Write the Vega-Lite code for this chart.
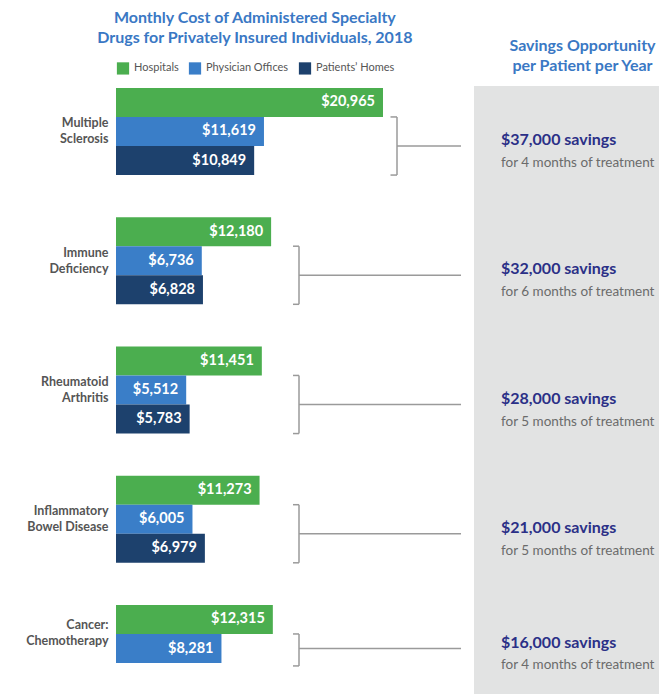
{
  "$schema": "https://vega.github.io/schema/vega-lite/v6.json",
  "padding": {"left": 25, "top": 10, "right": 0, "bottom": 0},
  "spacing": 0,
  "bounds": "flush",
  "config": {"view": {"stroke": null}, "font": "Lato"},
  "resolve": {"scale": {"color": "independent"}, "legend": {"color": "independent"}},
  "datasets": {
    "costs": [
      {"category": "Multiple Sclerosis", "series": "Hospitals", "value": 20965},
      {"category": "Multiple Sclerosis", "series": "Physician Offices", "value": 11619},
      {"category": "Multiple Sclerosis", "series": "Patients’ Homes", "value": 10849},
      {"category": "Immune Deficiency", "series": "Hospitals", "value": 12180},
      {"category": "Immune Deficiency", "series": "Physician Offices", "value": 6736},
      {"category": "Immune Deficiency", "series": "Patients’ Homes", "value": 6828},
      {"category": "Rheumatoid Arthritis", "series": "Hospitals", "value": 11451},
      {"category": "Rheumatoid Arthritis", "series": "Physician Offices", "value": 5512},
      {"category": "Rheumatoid Arthritis", "series": "Patients’ Homes", "value": 5783},
      {"category": "Inflammatory Bowel Disease", "series": "Hospitals", "value": 11273},
      {"category": "Inflammatory Bowel Disease", "series": "Physician Offices", "value": 6005},
      {"category": "Inflammatory Bowel Disease", "series": "Patients’ Homes", "value": 6979},
      {"category": "Cancer: Chemotherapy", "series": "Hospitals", "value": 12315},
      {"category": "Cancer: Chemotherapy", "series": "Physician Offices", "value": 8281}
    ],
    "savings": [
      {"category": "Multiple Sclerosis", "savings": 37000, "months": 4, "savingsLabel": "$37,000 savings", "treatment": "for 4 months of treatment"},
      {"category": "Immune Deficiency", "savings": 32000, "months": 6, "savingsLabel": "$32,000 savings", "treatment": "for 6 months of treatment"},
      {"category": "Rheumatoid Arthritis", "savings": 28000, "months": 5, "savingsLabel": "$28,000 savings", "treatment": "for 5 months of treatment"},
      {"category": "Inflammatory Bowel Disease", "savings": 21000, "months": 5, "savingsLabel": "$21,000 savings", "treatment": "for 5 months of treatment"},
      {"category": "Cancer: Chemotherapy", "savings": 16000, "months": 4, "savingsLabel": "$16,000 savings", "treatment": "for 4 months of treatment"}
    ]
  },
  "hconcat": [
    {
      "width": 358,
      "height": 608,
      "title": {
        "text": ["Monthly Cost of Administered Specialty", "Drugs for Privately Insured Individuals, 2018"],
        "anchor": "middle", "frame": "bounds", "dx": 5,
        "fontSize": 16, "fontWeight": "bold", "color": "#3a78c4", "lineHeight": 20, "offset": 15
      },
      "layer": [
        {
          "data": {"name": "costs"},
          "mark": {"type": "bar"},
          "encoding": {
            "x": {"field": "value", "type": "quantitative", "scale": {"domain": [0, 28111], "nice": false}, "axis": null},
            "y": {
              "field": "category", "type": "nominal", "title": null,
              "scale": {"type": "band", "domain": ["Multiple Sclerosis", "Immune Deficiency", "Rheumatoid Arthritis", "Inflammatory Bowel Disease", "Cancer: Chemotherapy"], "paddingInner": 0.326, "paddingOuter": 0.015},
              "axis": {
                "title": null, "domain": false, "ticks": false, "labelPadding": 8,
                "labelFontSize": 12.5, "labelFontWeight": "bold", "labelColor": "#555555", "labelLineHeight": 16,
                "labelBaseline": "middle",
                "labelExpr": "datum.value == 'Inflammatory Bowel Disease' ? ['Inflammatory', 'Bowel Disease'] : split(datum.value, ' ')",
                "labelOffset": {"condition": {"test": "datum.value == 'Cancer: Chemotherapy'", "value": -24}, "value": -8}
              }
            },
            "yOffset": {"field": "series", "type": "nominal", "scale": {"domain": ["Hospitals", "Physician Offices", "Patients’ Homes"], "paddingInner": 0, "paddingOuter": 0}},
            "color": {
              "field": "series", "type": "nominal",
              "scale": {"domain": ["Hospitals", "Physician Offices", "Patients’ Homes"], "range": ["#4bae4f", "#3a7ec8", "#1d416d"]},
              "legend": {
                "title": null, "orient": "top", "direction": "horizontal", "symbolType": "square", "symbolSize": 150,
                "labelFontSize": 11, "labelColor": "#555555", "columnPadding": 9, "offset": 11, "labelOffset": 4
              }
            }
          }
        },
        {
          "data": {"name": "costs"},
          "mark": {"type": "text", "align": "right", "baseline": "middle", "dx": -8, "color": "white", "fontWeight": "bold", "fontSize": 14.5},
          "encoding": {
            "x": {"field": "value", "type": "quantitative"},
            "y": {"field": "category", "type": "nominal", "title": null},
            "yOffset": {"field": "series", "type": "nominal"},
            "text": {"field": "value", "type": "quantitative", "format": "$,d"}
          }
        },
        {
          "data": {"name": "savings"},
          "transform": [{"filter": "datum.category == 'Multiple Sclerosis'"}],
          "mark": {"type": "rule", "color": "#9a9a9a", "strokeWidth": 1.5},
          "encoding": {"x": {"datum": 22065}, "y": {"field": "category", "type": "nominal", "title": null, "bandPosition": 0.333}, "y2": {"field": "category", "bandPosition": 1}}
        },
        {
          "data": {"name": "savings"},
          "transform": [{"filter": "datum.category == 'Multiple Sclerosis'"}],
          "mark": {"type": "rule", "color": "#9a9a9a", "strokeWidth": 1.5},
          "encoding": {"x": {"datum": 21555}, "x2": {"datum": 22065}, "y": {"field": "category", "type": "nominal", "title": null, "bandPosition": 0.333}}
        },
        {
          "data": {"name": "savings"},
          "transform": [{"filter": "datum.category == 'Multiple Sclerosis'"}],
          "mark": {"type": "rule", "color": "#9a9a9a", "strokeWidth": 1.5},
          "encoding": {"x": {"datum": 21555}, "x2": {"datum": 22065}, "y": {"field": "category", "type": "nominal", "title": null, "bandPosition": 1}}
        },
        {
          "data": {"name": "savings"},
          "transform": [{"filter": "datum.category == 'Multiple Sclerosis'"}],
          "mark": {"type": "rule", "color": "#9a9a9a", "strokeWidth": 1.5},
          "encoding": {"x": {"datum": 22065}, "x2": {"datum": 27091}, "y": {"field": "category", "type": "nominal", "title": null, "bandPosition": 0.667}}
        },
        {
          "data": {"name": "savings"},
          "transform": [{"filter": "datum.category != 'Multiple Sclerosis' && datum.category != 'Cancer: Chemotherapy'"}],
          "mark": {"type": "rule", "color": "#9a9a9a", "strokeWidth": 1.5},
          "encoding": {"x": {"datum": 14370}, "y": {"field": "category", "type": "nominal", "title": null, "bandPosition": 0.333}, "y2": {"field": "category", "bandPosition": 1}}
        },
        {
          "data": {"name": "savings"},
          "transform": [{"filter": "datum.category != 'Multiple Sclerosis'"}],
          "mark": {"type": "rule", "color": "#9a9a9a", "strokeWidth": 1.5},
          "encoding": {"x": {"datum": 13899}, "x2": {"datum": 14370}, "y": {"field": "category", "type": "nominal", "title": null, "bandPosition": 0.333}}
        },
        {
          "data": {"name": "savings"},
          "transform": [{"filter": "datum.category != 'Multiple Sclerosis' && datum.category != 'Cancer: Chemotherapy'"}],
          "mark": {"type": "rule", "color": "#9a9a9a", "strokeWidth": 1.5},
          "encoding": {"x": {"datum": 13899}, "x2": {"datum": 14370}, "y": {"field": "category", "type": "nominal", "title": null, "bandPosition": 1}}
        },
        {
          "data": {"name": "savings"},
          "transform": [{"filter": "datum.category != 'Multiple Sclerosis' && datum.category != 'Cancer: Chemotherapy'"}],
          "mark": {"type": "rule", "color": "#9a9a9a", "strokeWidth": 1.5},
          "encoding": {"x": {"datum": 14370}, "x2": {"datum": 27091}, "y": {"field": "category", "type": "nominal", "title": null, "bandPosition": 0.667}}
        },
        {
          "data": {"name": "savings"},
          "transform": [{"filter": "datum.category == 'Cancer: Chemotherapy'"}],
          "mark": {"type": "rule", "color": "#9a9a9a", "strokeWidth": 1.5},
          "encoding": {"x": {"datum": 14370}, "y": {"field": "category", "type": "nominal", "title": null, "bandPosition": 0.333}, "y2": {"field": "category", "bandPosition": 0.7}}
        },
        {
          "data": {"name": "savings"},
          "transform": [{"filter": "datum.category == 'Cancer: Chemotherapy'"}],
          "mark": {"type": "rule", "color": "#9a9a9a", "strokeWidth": 1.5},
          "encoding": {"x": {"datum": 13899}, "x2": {"datum": 14370}, "y": {"field": "category", "type": "nominal", "title": null, "bandPosition": 0.7}}
        },
        {
          "data": {"name": "savings"},
          "transform": [{"filter": "datum.category == 'Cancer: Chemotherapy'"}],
          "mark": {"type": "rule", "color": "#9a9a9a", "strokeWidth": 1.5},
          "encoding": {"x": {"datum": 14370}, "x2": {"datum": 27091}, "y": {"field": "category", "type": "nominal", "title": null, "bandPosition": 0.5}}
        }
      ]
    },
    {
      "width": 185,
      "height": 608,
      "view": {"fill": "#e2e3e3", "stroke": null},
      "title": {
        "text": ["Savings Opportunity", "per Patient per Year"],
        "anchor": "middle", "dx": 16,
        "fontSize": 16, "fontWeight": "bold", "color": "#3a78c4", "lineHeight": 20, "offset": 12
      },
      "data": {"name": "savings"},
      "encoding": {
        "x": {"datum": 0, "type": "quantitative", "scale": {"domain": [0, 1]}, "axis": null},
        "y": {"field": "category", "type": "nominal", "title": null, "axis": null, "bandPosition": 0.667,
          "scale": {"type": "band", "domain": ["Multiple Sclerosis", "Immune Deficiency", "Rheumatoid Arthritis", "Inflammatory Bowel Disease", "Cancer: Chemotherapy"], "paddingInner": 0.326, "paddingOuter": 0.015}}
      },
      "layer": [
        {
          "transform": [{"filter": "datum.category != 'Cancer: Chemotherapy'"}],
          "mark": {"type": "text", "align": "left", "baseline": "middle", "dx": 27, "dy": -6, "fontSize": 16, "fontWeight": "bold", "color": "#2b3087"},
          "encoding": {"text": {"field": "savingsLabel"}}
        },
        {
          "transform": [{"filter": "datum.category != 'Cancer: Chemotherapy'"}],
          "mark": {"type": "text", "align": "left", "baseline": "middle", "dx": 27, "dy": 17, "fontSize": 13.5, "color": "#6b6b6b"},
          "encoding": {"text": {"field": "treatment"}}
        },
        {
          "transform": [{"filter": "datum.category == 'Cancer: Chemotherapy'"}],
          "mark": {"type": "text", "align": "left", "baseline": "middle", "dx": 27, "dy": -6, "fontSize": 16, "fontWeight": "bold", "color": "#2b3087"},
          "encoding": {"text": {"field": "savingsLabel"}, "y": {"field": "category", "type": "nominal", "title": null, "axis": null, "bandPosition": 0.5}}
        },
        {
          "transform": [{"filter": "datum.category == 'Cancer: Chemotherapy'"}],
          "mark": {"type": "text", "align": "left", "baseline": "middle", "dx": 27, "dy": 16, "fontSize": 13.5, "color": "#6b6b6b"},
          "encoding": {"text": {"field": "treatment"}, "y": {"field": "category", "type": "nominal", "title": null, "axis": null, "bandPosition": 0.5}}
        }
      ]
    }
  ]
}
